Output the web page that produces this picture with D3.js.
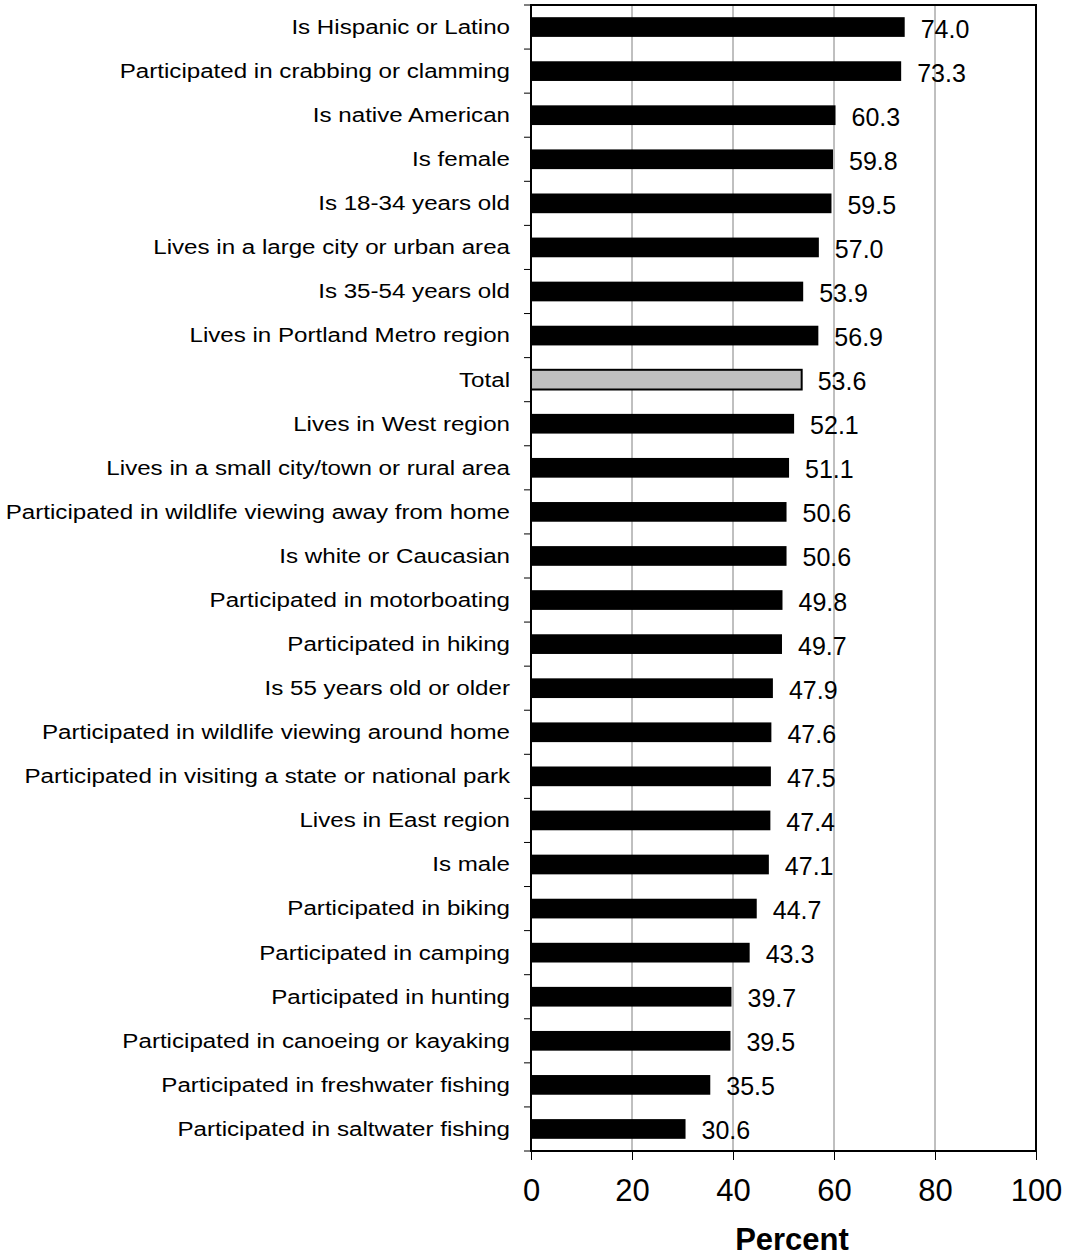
<!DOCTYPE html>
<html><head><meta charset="utf-8">
<script src="https://cdn.jsdelivr.net/npm/d3@7"></script>
<style>body{margin:0;background:#fff}svg{display:block}text{font-family:"Liberation Sans",Arial,sans-serif}</style>
</head><body>
<script>
const categories = ["Is Hispanic or Latino","Participated in crabbing or clamming","Is native American","Is female","Is 18-34 years old","Lives in a large city or urban area","Is 35-54 years old","Lives in Portland Metro region","Total","Lives in West region","Lives in a small city/town or rural area","Participated in wildlife viewing away from home","Is white or Caucasian","Participated in motorboating","Participated in hiking","Is 55 years old or older","Participated in wildlife viewing around home","Participated in visiting a state or national park","Lives in East region","Is male","Participated in biking","Participated in camping","Participated in hunting","Participated in canoeing or kayaking","Participated in freshwater fishing","Participated in saltwater fishing"];
const values = [74.0,73.3,60.3,59.8,59.5,57.0,53.9,56.9,53.6,52.1,51.1,50.6,50.6,49.8,49.7,47.9,47.6,47.5,47.4,47.1,44.7,43.3,39.7,39.5,35.5,30.6];
const xTicks = [0,20,40,60,80,100];
const highlight = "Total";
const xTitle = "Percent";

(function(){
const W=1068,H=1257;
const pL=531,pR=1036,pT=5,pB=1151;
const svg=d3.select("body").append("svg").attr("width",W).attr("height",H);
const x=d3.scaleLinear().domain([0,100]).range([pL,pR]);
const y=d3.scaleBand().domain(categories).range([pT,pB]).paddingInner(0.553).paddingOuter(0.2765);

svg.append("g").selectAll("line").data(xTicks.filter(d=>d>0&&d<100)).join("line")
 .attr("x1",d=>x(d)).attr("x2",d=>x(d)).attr("y1",pT).attr("y2",pB)
 .attr("stroke","#808080").attr("stroke-width",1);

svg.append("g").selectAll("rect").data(categories).join("rect")
 .attr("x",x(0)).attr("y",d=>y(d)).attr("height",y.bandwidth())
 .attr("width",(d,i)=>x(values[i])-x(0))
 .attr("fill",d=>d===highlight?"#c0c0c0":"#000")
 .attr("stroke","#000").attr("stroke-width",d=>d===highlight?2:0);

svg.append("rect").attr("x",pL).attr("y",pT).attr("width",pR-pL).attr("height",pB-pT)
 .attr("fill","none").attr("stroke","#000").attr("stroke-width",2);

const step=(pB-pT)/categories.length;
const bounds=d3.range(categories.length+1).map(i=>pT+i*step);
svg.append("g").selectAll("line").data(bounds).join("line")
 .attr("x1",pL-7).attr("x2",pL).attr("y1",d=>d).attr("y2",d=>d)
 .attr("stroke","#000").attr("stroke-width",1);

svg.append("g").selectAll("text").data(categories).join("text")
 .attr("transform",d=>`translate(510,${y(d)+y.bandwidth()/2-0.5}) scale(1.15,1)`)
 .attr("dy","0.35em")
 .attr("text-anchor","end").attr("font-size",21).attr("fill","#000").text(d=>d);

svg.append("g").selectAll("text").data(categories).join("text")
 .attr("x",(d,i)=>x(values[i])+16).attr("y",d=>y(d)+y.bandwidth()/2+10.5)
 .attr("font-size",25).attr("fill","#000").text((d,i)=>values[i].toFixed(1));

const xa=d3.axisBottom(x).tickValues(xTicks).tickSize(9).tickSizeOuter(0);
const g=svg.append("g").attr("transform",`translate(0,${pB})`).call(xa);
g.select(".domain").remove();
g.selectAll(".tick line").attr("stroke","#000");
g.selectAll(".tick text").attr("font-size",31).attr("y",50).attr("dy",0).attr("fill","#000")
 .attr("font-family","Liberation Sans, Arial, sans-serif");

svg.append("text").attr("x",792).attr("y",1250).attr("text-anchor","middle")
 .attr("font-size",31).attr("font-weight","bold").text(xTitle);
})();
</script>
</body></html>
